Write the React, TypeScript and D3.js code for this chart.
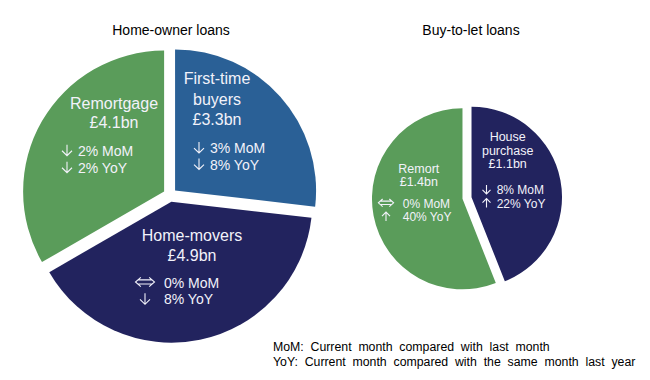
import React from "react";
import * as d3 from "d3";

// ---- Data ----
const homeOwnerCategories = ["First-time buyers", "Home-movers", "Remortgage"];
const homeOwnerValues = [3.3, 4.9, 4.1]; // £bn
const homeOwnerMoM = [-3, 0, -2]; // %
const homeOwnerYoY = [-8, -8, -2]; // %

const btlCategories = ["House purchase", "Remort"];
const btlValues = [1.1, 1.4]; // £bn
const btlMoM = [-8, 0];
const btlYoY = [22, 40];

const titles = ["Home-owner loans", "Buy-to-let loans"];
const footnotes = [
  "MoM: Current month compared with last month",
  "YoY: Current month compared with the same month last year",
];

// ---- Styling / layout ----
const homeOwnerColors = ["#2A6096", "#22235E", "#5A9C5A"];
const btlColors = ["#22235E", "#5A9C5A"];

type SliceLayout = {
  lines: string[];
  nameX: number; // relative to pie centre
  nameY: number;
  lineH: number;
  arrowX: number;
  textX: number;
  statY: number;
  statH: number;
};

const FONT = "'Liberation Sans', Arial, sans-serif";
const TXT = "#F2F2FA";

function Arrow({ kind, cx, baseline, w, h }: { kind: number; cx: number; baseline: number; w: number; h: number }) {
  if (kind === 0) {
    const W = w * 1.9;
    const H = h * 0.85;
    const mid = baseline - h * 0.52;
    const x0 = cx - W / 2;
    const x1 = cx + W / 2;
    const hw = W * 0.28;
    const gap = H * 0.22;
    const d = [
      `M${x0 + hw},${mid - H / 2}L${x0},${mid}L${x0 + hw},${mid + H / 2}`,
      `M${x1 - hw},${mid - H / 2}L${x1},${mid}L${x1 - hw},${mid + H / 2}`,
      `M${x0 + hw * 0.55},${mid - gap}L${x1 - hw * 0.55},${mid - gap}`,
      `M${x0 + hw * 0.55},${mid + gap}L${x1 - hw * 0.55},${mid + gap}`,
    ].join("");
    return <path d={d} fill="none" stroke={TXT} strokeWidth={1.1} />;
  }
  const top = baseline - h;
  const bot = baseline;
  const head = h * 0.45;
  let d: string;
  if (kind < 0) {
    d = `M${cx},${top}L${cx},${bot}M${cx - w / 2},${bot - head}L${cx},${bot}L${cx + w / 2},${bot - head}`;
  } else {
    d = `M${cx},${bot}L${cx},${top}M${cx - w / 2},${top + head}L${cx},${top}L${cx + w / 2},${top + head}`;
  }
  return <path d={d} fill="none" stroke={TXT} strokeWidth={1.1} />;
}

function Pie({
  cx, cy, r, explode, values, colors, mom, yoy, value, layouts, nameSize, statSize, arrowW, arrowH,
}: {
  cx: number; cy: number; r: number; explode: number; values: number[]; colors: string[];
  mom: number[]; yoy: number[]; value: number[]; layouts: SliceLayout[]; nameSize: number; statSize: number;
  arrowW: number; arrowH: number;
}) {
  const pie = d3.pie<number>().sort(null).value((d) => d).startAngle(0).endAngle(2 * Math.PI);
  const arcs = pie(values);
  const arc = d3.arc<d3.PieArcDatum<number>>().innerRadius(0).outerRadius(r);
  return (
    <g transform={`translate(${cx},${cy})`}>
      {arcs.map((a, i) => {
        const mid = (a.startAngle + a.endAngle) / 2;
        const dx = Math.sin(mid) * explode;
        const dy = -Math.cos(mid) * explode;
        return <path key={i} d={arc(a) || ""} fill={colors[i]} transform={`translate(${dx},${dy})`} />;
      })}
      {arcs.map((a, i) => {
        const L = layouts[i];
        const pct = (v: number) => `${Math.abs(v)}% `;
        return (
          <g key={"l" + i} fontFamily={FONT} fill={TXT}>
            {L.lines.map((ln, j) => (
              <text key={j} x={L.nameX} y={L.nameY + j * L.lineH} textAnchor="middle" fontSize={nameSize}>{ln}</text>
            ))}
            <text x={L.nameX} y={L.nameY + L.lines.length * L.lineH} textAnchor="middle" fontSize={nameSize}>
              {`£${value[i].toFixed(1)}bn`}
            </text>
            <Arrow kind={Math.sign(mom[i])} cx={L.arrowX} baseline={L.statY} w={arrowW} h={arrowH} />
            <text x={L.textX} y={L.statY} fontSize={statSize}>{pct(mom[i]) + "MoM"}</text>
            <Arrow kind={Math.sign(yoy[i])} cx={L.arrowX} baseline={L.statY + L.statH} w={arrowW} h={arrowH} />
            <text x={L.textX} y={L.statY + L.statH} fontSize={statSize}>{pct(yoy[i]) + "YoY"}</text>
          </g>
        );
      })}
    </g>
  );
}

const leftLayouts: SliceLayout[] = [
  { lines: ["First-time", "buyers"], nameX: 47, nameY: -111, lineH: 20.5, arrowX: 29, textX: 40, statY: -42, statH: 16.5 },
  { lines: ["Home-movers"], nameX: 22, nameY: 45.7, lineH: 20, arrowX: -25, textX: -6, statY: 92.7, statH: 16.6 },
  { lines: ["Remortgage"], nameX: -56, nameY: -86, lineH: 19, arrowX: -103, textX: -92, statY: -39.3, statH: 17 },
];

const rightLayouts: SliceLayout[] = [
  { lines: ["House", "purchase"], nameX: 40.7, nameY: -57.3, lineH: 13.8, arrowX: 19.5, textX: 29.7, statY: -4, statH: 13.5 },
  { lines: ["Remort"], nameX: -48.2, nameY: -25.3, lineH: 13, arrowX: -81, textX: -64.3, statY: 9.5, statH: 13.5 },
];

export default function App() {
  return (
    <svg width={650} height={380} style={{ display: "block", position: "absolute", left: 0, top: 0 }}>
      <rect width={650} height={380} fill="#ffffff" />
      <text x={171} y={35} textAnchor="middle" fontFamily={FONT} fontSize={14} fill="#000">{titles[0]}</text>
      <text x={471} y={35} textAnchor="middle" fontFamily={FONT} fontSize={14} fill="#000">{titles[1]}</text>
      <Pie cx={170} cy={195} r={141} explode={6.8} values={homeOwnerValues} colors={homeOwnerColors}
        mom={homeOwnerMoM} yoy={homeOwnerYoY} value={homeOwnerValues} layouts={leftLayouts}
        nameSize={16} statSize={14} arrowW={10} arrowH={11} />
      <Pie cx={467} cy={198} r={90.5} explode={4.6} values={btlValues} colors={btlColors}
        mom={btlMoM} yoy={btlYoY} value={btlValues} layouts={rightLayouts}
        nameSize={12.5} statSize={12} arrowW={8} arrowH={9} />
      {footnotes.map((f, i) => (
        <text key={i} x={273} y={350.7 + i * 15.3} fontFamily={FONT} fontSize={12.3} fill="#000" wordSpacing={3.4}>{f}</text>
      ))}
    </svg>
  );
}
